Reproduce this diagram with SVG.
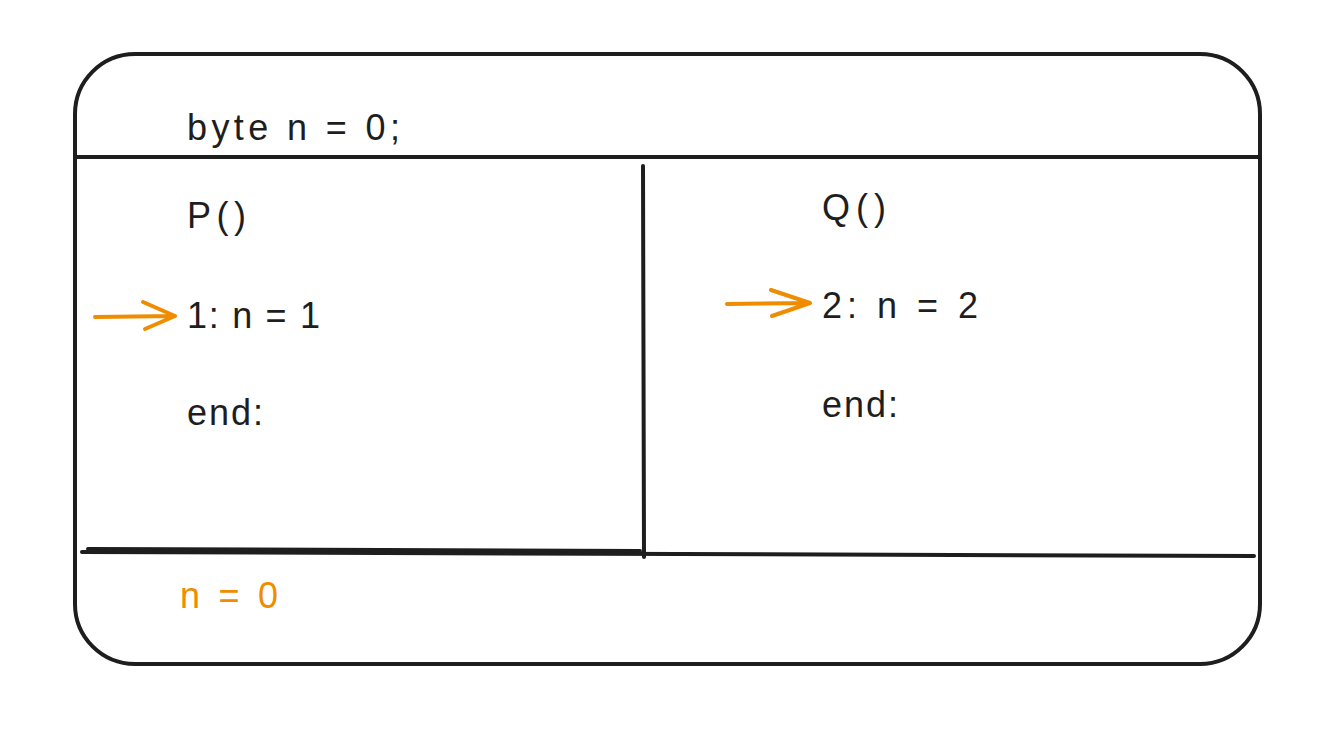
<svg xmlns="http://www.w3.org/2000/svg" width="1338" height="740" viewBox="0 0 1338 740">
<style>
.ln{fill:none;stroke:#1e1e1e;stroke-width:4;stroke-linecap:round;stroke-linejoin:round}
.ar{fill:none;stroke:#f08c00;stroke-width:4;stroke-linecap:round;stroke-linejoin:round}
.t{font-family:"Liberation Sans",Arial,sans-serif;font-size:36px;fill:#1e1e1e}
.o{fill:#f08c00}
</style>
<rect width="1338" height="740" fill="#ffffff"/>
<g id="frame">
<rect class="ln" x="75" y="54" width="1185" height="610" rx="60" ry="60"/>
<line class="ln" x1="75" y1="157" x2="1258" y2="157"/>
<line class="ln" x1="643" y1="166" x2="644" y2="557"/>
<line class="ln" x1="82" y1="552" x2="1254" y2="556"/>
<line class="ln" x1="88" y1="549" x2="640" y2="551"/>
</g>
<g id="global"><text class="t" x="187" y="140" textLength="213" lengthAdjust="spacing">byte n = 0;</text></g>
<g id="procP">
<text class="t" x="187" y="228" textLength="59" lengthAdjust="spacing">P()</text>
<text class="t" x="187" y="328" textLength="133" lengthAdjust="spacing">1: n = 1</text>
<text class="t" x="187" y="425" textLength="76" lengthAdjust="spacing">end:</text>
</g>
<g id="procQ">
<text class="t" x="822" y="220" textLength="64" lengthAdjust="spacing">Q()</text>
<text class="t" x="822" y="318" textLength="156" lengthAdjust="spacing">2: n = 2</text>
<text class="t" x="822" y="417" textLength="76" lengthAdjust="spacing">end:</text>
</g>
<g id="state"><text class="t o" x="180" y="608" textLength="98" lengthAdjust="spacing">n = 0</text></g>
<g id="connectors">
<path class="ar" d="M95 317 L175 316 M143 302 L175 316 L145 329"/>
<path class="ar" d="M727 304 L810 303 M771 290 L810 303 L772 316"/>
</g>
</svg>
